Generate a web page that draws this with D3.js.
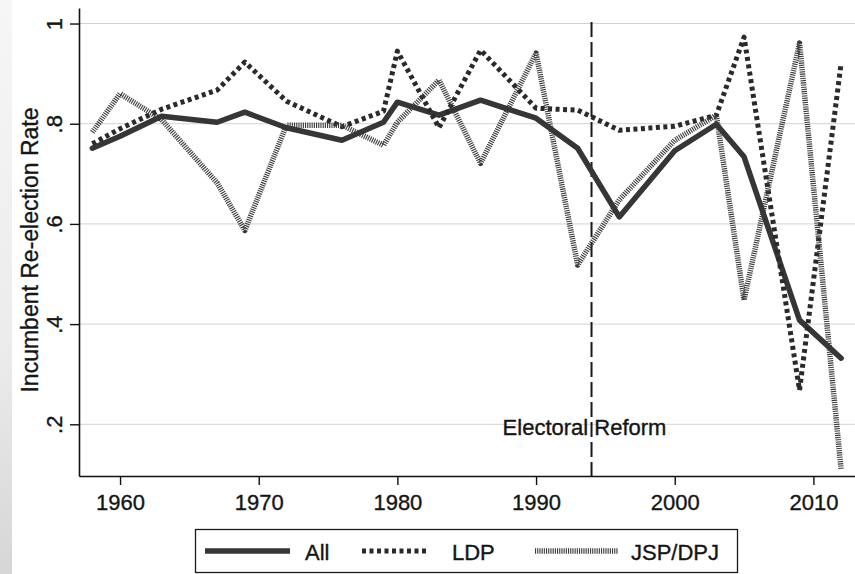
<!DOCTYPE html>
<html>
<head>
<meta charset="utf-8">
<script src="https://cdn.jsdelivr.net/npm/d3@7/dist/d3.min.js"></script>
<style>
  html, body { margin: 0; padding: 0; background: #ffffff; }
  svg { display: block; font-family: "Liberation Sans", Arial, Helvetica, sans-serif; }
  .lbl { fill: #151515; stroke: #151515; stroke-width: 0.35px; }
</style>
</head>
<body>
<svg id="chart" width="855" height="574"></svg>
<script>
// Election years (House of Representatives general elections)
const years = [1958, 1960, 1963, 1967, 1969, 1972, 1976, 1979, 1980, 1983,
               1986, 1990, 1993, 1996, 2000, 2003, 2005, 2009, 2012];

// Incumbent re-election rates by group
const allRate = [0.751, 0.775, 0.815, 0.803, 0.823, 0.792, 0.767, 0.803, 0.843, 0.817,
                 0.847, 0.811, 0.751, 0.614, 0.746, 0.799, 0.734, 0.408, 0.332];
const ldpRate = [0.760, 0.790, 0.829, 0.867, 0.923, 0.845, 0.794, 0.825, 0.945, 0.792,
                 0.947, 0.831, 0.827, 0.787, 0.795, 0.817, 0.973, 0.268, 0.921];
const jspRate = [0.783, 0.860, 0.808, 0.682, 0.587, 0.797, 0.797, 0.757, 0.803, 0.887,
                 0.721, 0.941, 0.518, 0.648, 0.767, 0.817, 0.448, 0.961, 0.109];

const seriesNames = ["All", "LDP", "JSP/DPJ"];
const yTicks = [0.2, 0.4, 0.6, 0.8, 1];
const xTicks = [1960, 1970, 1980, 1990, 2000, 2010];
const reformYear = 1994;
const reformLabel = "Electoral Reform";
const yTitle = "Incumbent Re-election Rate";

const svg = d3.select("#chart");
const W = 855, H = 574;

// scanned page edge on the left
const defs = svg.append("defs");
const grad = defs.append("linearGradient").attr("id", "edge")
  .attr("x1", 0).attr("y1", 0).attr("x2", 0).attr("y2", 1);
grad.append("stop").attr("offset", "0%").attr("stop-color", "#f6f6f6");
grad.append("stop").attr("offset", "60%").attr("stop-color", "#ececec");
grad.append("stop").attr("offset", "100%").attr("stop-color", "#d6d6d6");
svg.append("rect").attr("x", 0).attr("y", 0).attr("width", 12).attr("height", H)
  .attr("fill", "url(#edge)");

const x = d3.scaleLinear().domain([1957.04, 2013.0]).range([79, 855]);
const y = d3.scaleLinear().domain([0.0968, 1.031]).range([476, 8]);

// horizontal grid
svg.append("g").selectAll("line").data(yTicks).join("line")
  .attr("x1", 80).attr("x2", W)
  .attr("y1", d => y(d)).attr("y2", d => y(d))
  .attr("stroke", "#d2d2d2").attr("stroke-width", 1);

// reform marker
svg.append("line")
  .attr("x1", x(reformYear)).attr("x2", x(reformYear))
  .attr("y1", y(1.003)).attr("y2", y.range()[0])
  .attr("stroke", "#1a1a1a").attr("stroke-width", 2)
  .attr("stroke-dasharray", "15,5");

svg.append("text").attr("class", "lbl")
  .attr("x", x(reformYear) - 7).attr("y", 435)
  .attr("text-anchor", "middle")
  .attr("font-size", 22)
  .text(reformLabel);

// axes
const yAxis = d3.axisLeft(y).tickValues(yTicks).tickSize(9).tickSizeOuter(0)
  .tickFormat(d => d === 1 ? "1" : d3.format(".1f")(d).replace(/^0/, ""));
const gy = svg.append("g").attr("transform", "translate(79,0)").call(yAxis);
gy.select(".domain").attr("stroke", "#111").attr("stroke-width", 1.6);
gy.selectAll(".tick line").attr("stroke", "#111").attr("stroke-width", 1.4);
gy.selectAll(".tick text")
  .attr("class", "lbl")
  .attr("transform", "rotate(-90)")
  .attr("x", 0).attr("y", -17).attr("dy", 0)
  .attr("text-anchor", "middle")
  .attr("font-size", 22)
  .attr("font-family", "Liberation Sans, Arial, sans-serif");

const xAxis = d3.axisBottom(x).tickValues(xTicks).tickSize(9).tickSizeOuter(0)
  .tickFormat(d3.format("d"));
const gx = svg.append("g").attr("transform", "translate(0,476)").call(xAxis);
gx.select(".domain").attr("stroke", "#111").attr("stroke-width", 1.6);
gx.selectAll(".tick line").attr("stroke", "#111").attr("stroke-width", 1.4);
gx.selectAll(".tick text")
  .attr("class", "lbl")
  .attr("y", 34).attr("dy", 0)
  .attr("font-size", 22)
  .attr("font-family", "Liberation Sans, Arial, sans-serif");

svg.append("text").attr("class", "lbl")
  .attr("transform", "translate(38,250) rotate(-90)")
  .attr("text-anchor", "middle")
  .attr("font-size", 23)
  .text(yTitle);

// series styles
const styles = [
  { color: "#363636", width: 5.5, dash: null, cap: "round" },
  { color: "#2a2a2a", width: 5, dash: "4,3.5", cap: "butt" },
  { color: "#383838", width: 5.5, dash: "1.1,1.1", cap: "butt" }
];
const seriesData = [allRate, ldpRate, jspRate];

const line = d3.line()
  .x((d, i) => x(years[i]))
  .y(d => y(d));

seriesData.forEach((vals, k) => {
  const s = styles[k];
  svg.append("path")
    .datum(vals)
    .attr("d", line)
    .attr("fill", "none")
    .attr("stroke", s.color)
    .attr("stroke-width", s.width)
    .attr("stroke-linejoin", "round")
    .attr("stroke-linecap", s.cap)
    .attr("stroke-dasharray", s.dash);
});

// legend
const lg = svg.append("g");
lg.append("rect").attr("x", 195.5).attr("y", 529.5).attr("width", 542).attr("height", 43)
  .attr("fill", "#fff").attr("stroke", "#1a1a1a").attr("stroke-width", 1.3);
const legendItems = [
  { x0: 205, x1: 290, tx: 305 },
  { x0: 362, x1: 428, tx: 452 },
  { x0: 535, x1: 618, tx: 631 }
];
legendItems.forEach((it, k) => {
  const s = styles[k];
  lg.append("line")
    .attr("x1", it.x0).attr("x2", it.x1).attr("y1", 551).attr("y2", 551)
    .attr("stroke", s.color).attr("stroke-width", s.width)
    .attr("stroke-dasharray", s.dash);
  lg.append("text").attr("class", "lbl")
    .attr("x", it.tx).attr("y", 560)
    .attr("font-size", 22)
    .text(seriesNames[k]);
});
</script>
</body>
</html>
